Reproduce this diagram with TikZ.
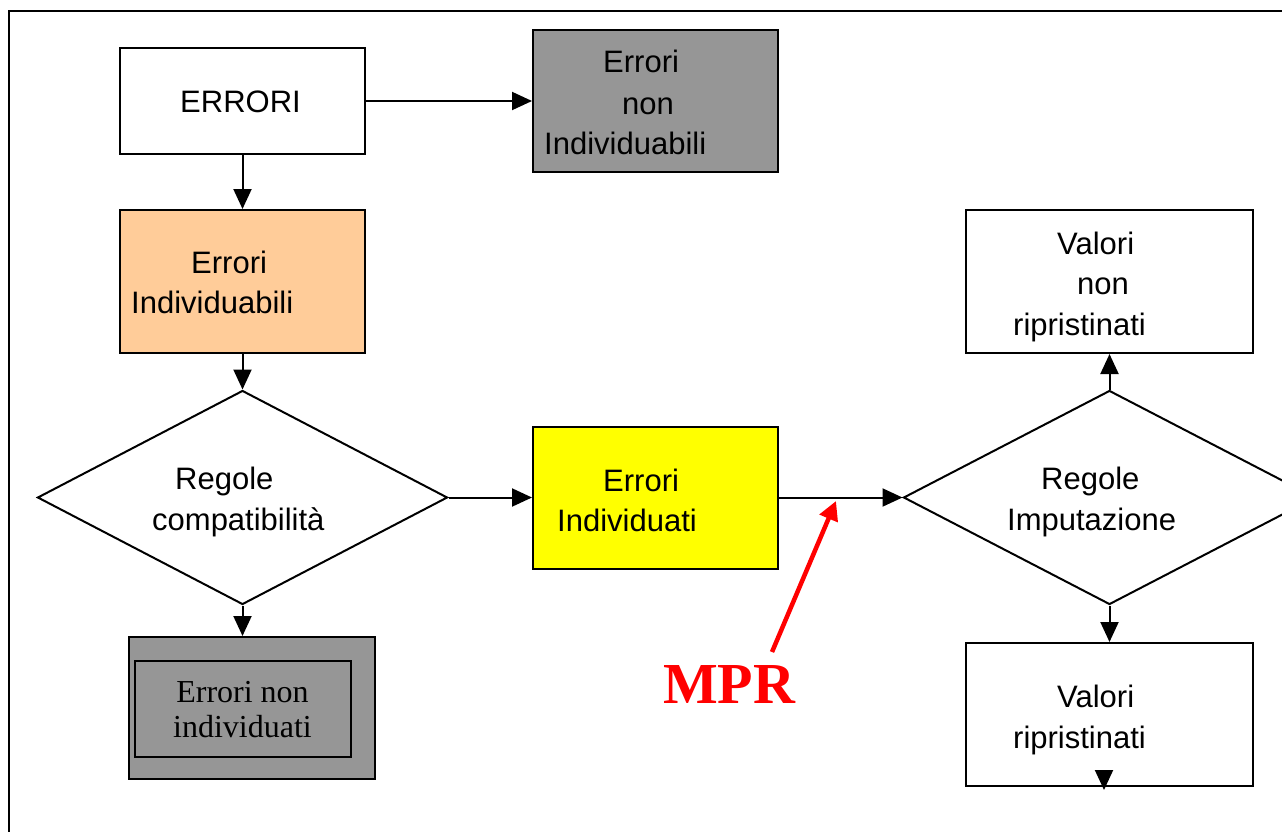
\documentclass[tikz,border=0pt]{standalone}
\usepackage{fontspec}
\setmainfont{Liberation Sans}
\newfontfamily\tnr{Liberation Serif}
\usetikzlibrary{arrows.meta,shapes.geometric}
\definecolor{pgray}{RGB}{150,150,150}
\definecolor{peach}{RGB}{255,204,153}
\definecolor{pyellow}{RGB}{255,255,0}
\definecolor{mprred}{RGB}{255,0,0}
\tikzset{
  box/.style={draw=black, line width=2pt, rectangle, inner sep=0pt},
  dia/.style={draw=black, line width=2pt, diamond, inner sep=0pt},
  lbl/.style={anchor=base west, inner sep=0pt, font=\fontsize{31}{40}\selectfont},
  serlbl/.style={anchor=base, inner sep=0pt, font=\tnr\fontsize{32}{35}\selectfont},
  conn/.style={line width=2pt, -{Triangle[length=20pt,width=18pt]}},
  mprarrow/.style={draw=mprred, line width=4.5pt, -{Triangle[length=19pt,width=19pt]}},
}
\begin{document}
\begin{tikzpicture}[x=1pt,y=-1pt]
\useasboundingbox (0,0) rectangle (1282,832);
% outer frame
\draw[line width=1.6pt] (9,11) rectangle (1300,850);

% boxes
\node[box, fill=white, minimum width=245pt, minimum height=106pt] (errori) at (242.5,101) {};
\node[box, fill=pgray, minimum width=245pt, minimum height=142pt] (nonind) at (655.5,101) {};
\node[box, fill=peach, minimum width=245pt, minimum height=143pt] (indiv) at (242.5,281.5) {};
\node[dia, fill=white, minimum width=410pt, minimum height=214pt] (comp) at (242.5,497.5) {};
\node[box, fill=pyellow, minimum width=245pt, minimum height=142pt] (errind) at (655.5,497.5) {};
\node[dia, fill=white, minimum width=412pt, minimum height=214pt] (imput) at (1109.5,497.5) {};
\node[box, fill=white, minimum width=287pt, minimum height=143pt] (vnr) at (1109.5,281.5) {};
\node[box, fill=white, minimum width=287pt, minimum height=143pt] (vr) at (1109.5,714.5) {};
\node[box, fill=pgray, minimum width=246pt, minimum height=142pt] (eni) at (252,708) {};
\node[draw=black, line width=1.5pt, rectangle, inner sep=0pt, minimum width=216pt, minimum height=96pt] (eniin) at (243,709) {};

% labels
\node[lbl] (t1) at (180,113) {ERRORI};
\node[lbl] (t2) at (603,73) {Errori};
\node[lbl] (t3) at (622,115) {non};
\node[lbl] (t4) at (544,154) {Individuabili};
\node[lbl] (t5) at (191,273) {Errori};
\node[lbl] (t6) at (131,313) {Individuabili};
\node[lbl] (t7) at (175,489) {Regole};
\node[lbl] (t8) at (152,530) {compatibilità};
\node[lbl] (t9) at (603,491) {Errori};
\node[lbl] (t10) at (557,531) {Individuati};
\node[lbl] (t11) at (1041,489) {Regole};
\node[lbl] (t12) at (1007,530) {Imputazione};
\node[lbl] (t13) at (1057,254) {Valori};
\node[lbl] (t14) at (1077,294) {non};
\node[lbl] (t15) at (1013,335) {ripristinati};
\node[lbl] (t16) at (1057,707) {Valori};
\node[lbl] (t17) at (1013,748) {ripristinati};
\node[serlbl] (t18) at (242.5,702) {Errori non};
\node[serlbl] (t19) at (242.5,737) {individuati};
\node[anchor=base west, inner sep=0pt, text=mprred, font=\tnr\bfseries\fontsize{58}{60}\selectfont] (mpr) at (663,703) {MPR};

% connectors
\draw[conn] (errori.east) -- (nonind.west);
\draw[conn] (errori.south) -- (indiv.north);
\draw[conn] (indiv.south) -- (comp.north);
\draw[conn] (comp.south) -- (comp.south |- eni.north);
\draw[conn] (comp.east) -- (errind.west);
\draw[conn] (errind.east) -- (imput.west);
\draw[conn] (imput.north) -- (vnr.south);
\draw[conn] (imput.south) -- (vr.north);
\coordinate (vrtop) at (1104,770);
\coordinate (vrtip) at (1104,790);
\draw[conn] (vrtop) -- (vrtip);

% MPR pointer
\coordinate (mprstart) at (772,652);
\coordinate (mprtip) at (836,501);
\draw[mprarrow] (mprstart) -- (mprtip);
\end{tikzpicture}
\end{document}
